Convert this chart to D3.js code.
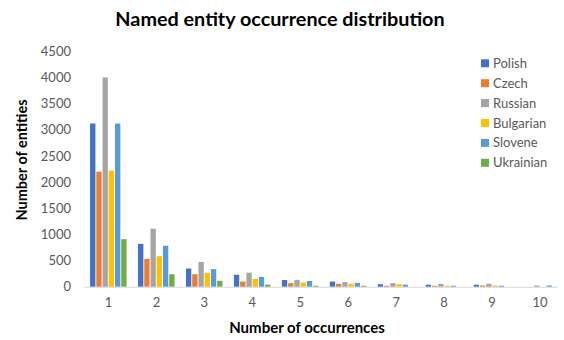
<!DOCTYPE html>
<html>
<head>
<meta charset="utf-8">
<script src="https://cdn.jsdelivr.net/npm/d3@7"></script>
<style>
  body { margin: 0; background: #fff; }
  svg { display: block; font-family: Lato, "Open Sans", sans-serif; }
</style>
</head>
<body>
<svg id="chart" width="564" height="340"></svg>
<script>
const categories = ["1","2","3","4","5","6","7","8","9","10"];
const seriesNames = ["Polish","Czech","Russian","Bulgarian","Slovene","Ukrainian"];
const polish    = [3120, 820, 350, 230, 130, 100, 50, 40, 40, 0];
const czech     = [2200, 535, 240, 100, 70, 57, 20, 20, 25, 0];
const russian   = [4000, 1110, 475, 270, 133, 90, 70, 55, 57, 25];
const bulgarian = [2220, 585, 268, 150, 82, 57, 50, 20, 25, 0];
const slovene   = [3120, 785, 338, 188, 112, 76, 40, 20, 20, 25];
const ukrainian = [910, 240, 115, 42, 20, 19, 0, 0, 0, 0];
const yTicks = [0,500,1000,1500,2000,2500,3000,3500,4000,4500];
const colors = ["#4472C4","#ED7D31","#A5A5A5","#FFC000","#5B9BD5","#70AD47"];
const seriesValues = [polish, czech, russian, bulgarian, slovene, ukrainian];

const svg = d3.select("#chart");
const plot = {left: 84.5, right: 564, top: 51.3, bottom: 286.8};

const x0 = d3.scaleBand().domain(categories).range([plot.left, plot.right])
  .paddingInner(0.22).paddingOuter(0.11);
const x1 = d3.scaleBand().domain(seriesNames).range([0, x0.bandwidth()]).padding(0);
const y = d3.scaleLinear().domain([0, 4500]).range([plot.bottom, plot.top]);

// title
svg.append("text").attr("x", 280).attr("y", 25.5).attr("text-anchor", "middle")
  .attr("font-weight", "bold").attr("font-size", 19.8).attr("fill", "#000")
  .text("Named entity occurrence distribution");

// y axis (labels only)
const yAxis = d3.axisLeft(y).tickValues(yTicks).tickSize(0).tickPadding(0).tickFormat(d3.format("d"));
const yg = svg.append("g").attr("transform", `translate(71,0)`).call(yAxis);
yg.select(".domain").remove();
yg.selectAll("text").attr("font-size", 13).attr("fill", "#595959").attr("font-family", "Lato, sans-serif");

// bars
const groups = svg.append("g").selectAll("g").data(categories).join("g")
  .attr("transform", d => `translate(${x0(d)},0)`);
groups.selectAll("rect")
  .data((c, i) => seriesNames.map((s, j) => ({s, j, v: seriesValues[j][i]})))
  .join("rect")
  .attr("x", d => x1(d.s) + 0.3)
  .attr("width", x1.bandwidth() - 0.9)
  .attr("y", d => y(d.v))
  .attr("height", d => Math.max(0, y(0) - y(d.v)))
  .attr("fill", d => colors[d.j]);

// x axis
const xAxis = d3.axisBottom(x0).tickSize(0).tickPadding(0);
const xg = svg.append("g").attr("transform", `translate(0,${plot.bottom})`).call(xAxis);
xg.select(".domain").remove();
svg.append("line").attr("x1", plot.left).attr("x2", 557).attr("y1", plot.bottom + 0.5).attr("y2", plot.bottom + 0.5)
  .attr("stroke", "#d9d9d9").attr("stroke-width", 1);
xg.selectAll("text").attr("font-size", 13).attr("fill", "#595959").attr("dy", "1.55em").attr("font-family", "Lato, sans-serif");

// axis titles
svg.append("text").attr("x", 307).attr("y", 333).attr("text-anchor", "middle")
  .attr("font-weight", "bold").attr("font-size", 15).attr("fill", "#000")
  .text("Number of occurrences");
svg.append("text").attr("transform", "translate(27,160) rotate(-90)").attr("text-anchor", "middle")
  .attr("font-weight", "bold").attr("font-size", 14.5).attr("fill", "#000")
  .text("Number of entities");

// legend
const legend = svg.append("g").selectAll("g").data(seriesNames).join("g")
  .attr("transform", (d, i) => `translate(481,${63.3 + i * 19.9})`);
legend.append("rect").attr("x", 0).attr("y", -4).attr("width", 8).attr("height", 8)
  .attr("fill", (d, i) => colors[i]);
legend.append("text").attr("x", 12).attr("y", 0).attr("dy", "0.35em")
  .attr("font-size", 13).attr("fill", "#595959").text(d => d);
</script>
</body>
</html>
